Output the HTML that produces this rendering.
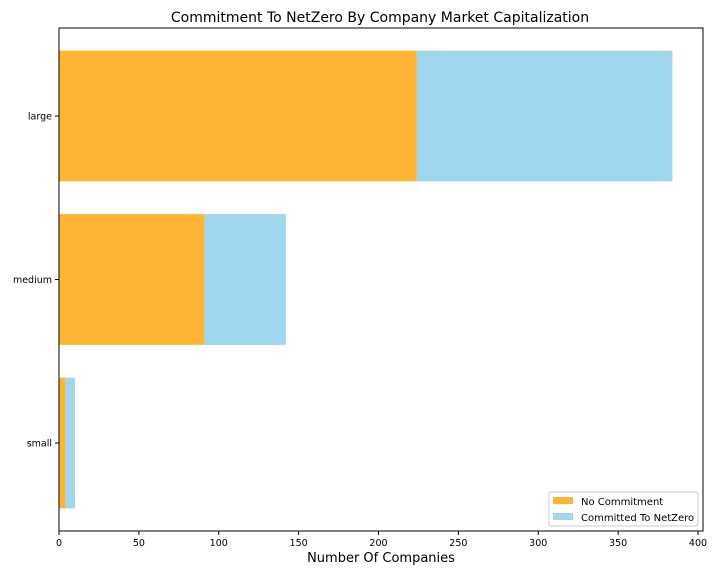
<!DOCTYPE html>
<html><head><meta charset="utf-8"><style>
body{margin:0;background:#fff;font-family:"Liberation Sans","DejaVu Sans",sans-serif}
</style></head><body>
<svg id="c" width="720" height="576" xmlns="http://www.w3.org/2000/svg" font-family="DejaVu Sans, Liberation Sans, sans-serif">
<text x="380" y="22" text-anchor="middle" font-size="14">Commitment To NetZero By Company Market Capitalization</text>
<g id="bars"></g>
<rect x="59" y="28" width="644" height="503" fill="none" stroke="#000" stroke-width="1"/>
<g id="axes" font-size="9.5"></g>
<text x="381" y="562" text-anchor="middle" font-size="13">Number Of Companies</text>
<g>
<rect x="549" y="492" width="149" height="34" fill="#fff" stroke="#ccc" rx="2"/>
<g><rect x="553" y="497" width="20" height="7" fill="#ffb534"/><text x="581" y="505" font-size="10">No Commitment</text></g>
<g><rect x="553" y="513" width="20" height="7" fill="#a0d7ee"/><text x="581" y="521" font-size="10">Committed To NetZero</text></g>
</g>
</svg>
<script>
const categories=["large","medium","small"];
const noCommitment=[224,91,4];
const committed=[160,51,6];
const xTicks=[0,50,100,150,200,250,300,350,400];
const NS="http://www.w3.org/2000/svg";
const x=v=>59+v*1.5975;
const yc=i=>116+i*163.5;
const bh=130.8;
const bars=document.getElementById('bars'),axes=document.getElementById('axes');
function mk(t,a,p){const e=document.createElementNS(NS,t);for(const k in a)e.setAttribute(k,a[k]);p.appendChild(e);return e;}
categories.forEach((c,i)=>{
 const r1=mk('rect',{x:x(0),y:yc(i)-bh/2,width:x(noCommitment[i])-x(0),height:bh,fill:'#ffb534'},bars);
 
 
 const r2=mk('rect',{x:x(noCommitment[i]),y:yc(i)-bh/2,width:x(noCommitment[i]+committed[i])-x(noCommitment[i]),height:bh,fill:'#a0d7ee'},bars);
 
 
 mk('line',{x1:55,x2:59,y1:yc(i),y2:yc(i),stroke:'#000'},axes);
 const t=mk('text',{x:52,y:yc(i)+3.5,'text-anchor':'end'},axes);t.textContent=c;
 
 
});
xTicks.forEach(v=>{
 mk('line',{x1:x(v),x2:x(v),y1:531,y2:535,stroke:'#000'},axes);
 const t=mk('text',{x:x(v),y:546,'text-anchor':'middle'},axes);t.textContent=v;
 
 
});
</script>
</body></html>
